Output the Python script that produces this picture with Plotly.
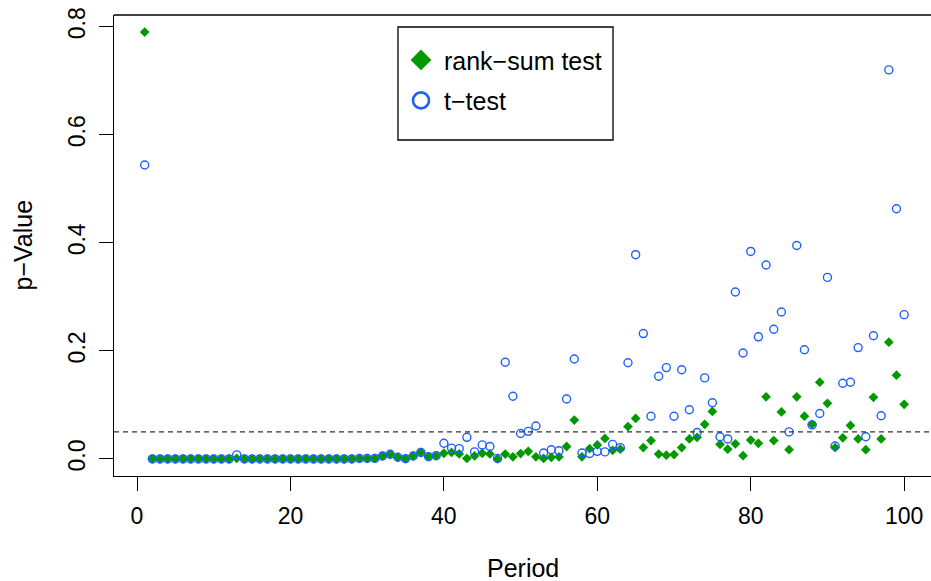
import plotly.graph_objects as go

periods = list(range(1, 101))

t_test = [
    0.544, 0.0, 0.0, 0.0, 0.0, 0.0, 0.0, 0.0, 0.0, 0.0,
    0.0, 0.0, 0.0075, 0.0, 0.0, 0.0, 0.0, 0.0, 0.0, 0.0,
    0.0, 0.0, 0.0, 0.0, 0.0, 0.0, 0.0, 0.0, 0.001, 0.001,
    0.001, 0.0055, 0.0086, 0.003, 0.0006, 0.0055, 0.012, 0.0043, 0.006, 0.029,
    0.020, 0.019, 0.040, 0.013, 0.026, 0.023, 0.001, 0.179, 0.116, 0.047,
    0.051, 0.061, 0.011, 0.017, 0.015, 0.111, 0.185, 0.011, 0.010, 0.014,
    0.013, 0.027, 0.021, 0.178, 0.378, 0.232, 0.079, 0.153, 0.169, 0.079,
    0.165, 0.091, 0.049, 0.150, 0.104, 0.041, 0.037, 0.309, 0.196, 0.384,
    0.226, 0.359, 0.240, 0.272, 0.050, 0.395, 0.202, 0.063, 0.084, 0.336,
    0.024, 0.140, 0.142, 0.206, 0.041, 0.228, 0.080, 0.720, 0.463, 0.267,
]

rank_sum = [
    0.790, 0.0, 0.0, 0.0, 0.0, 0.0, 0.0, 0.0, 0.0, 0.0,
    0.0, 0.0, 0.001, 0.0, 0.0, 0.0, 0.0, 0.0, 0.0, 0.0,
    0.0, 0.0, 0.0, 0.0, 0.0, 0.0, 0.0, 0.0, 0.001, 0.001,
    0.001, 0.0055, 0.0086, 0.003, 0.0006, 0.0055, 0.012, 0.0043, 0.006, 0.0105,
    0.012, 0.0093, 0.001, 0.0055, 0.0105, 0.0093, 0.0, 0.009, 0.004, 0.010,
    0.014, 0.004, 0.001, 0.003, 0.004, 0.023, 0.072, 0.004, 0.019, 0.026,
    0.038, 0.016, 0.018, 0.060, 0.075, 0.021, 0.034, 0.009, 0.007, 0.008,
    0.021, 0.037, 0.040, 0.064, 0.088, 0.027, 0.018, 0.028, 0.006, 0.035,
    0.029, 0.115, 0.034, 0.087, 0.017, 0.115, 0.079, 0.064, 0.142, 0.103,
    0.021, 0.039, 0.062, 0.037, 0.017, 0.114, 0.037, 0.216, 0.155, 0.101,
]

threshold = 0.05
x_ticks = [0, 20, 40, 60, 80, 100]
y_ticks = [0.0, 0.2, 0.4, 0.6, 0.8]
y_tick_text = ["0.0", "0.2", "0.4", "0.6", "0.8"]
series_names = ["rank\u2212sum test", "t\u2212test"]

GREEN = "#009900"
BLUE = "#1f5fff"
FONT = "Liberation Sans, Arial, sans-serif"
FS_TICK = 23
FS_TEXT = 25

fig = go.Figure()

# data traces
fig.add_trace(go.Scatter(
    x=periods, y=rank_sum, mode="markers", showlegend=False,
    marker=dict(symbol="diamond", size=7.5, color=GREEN, line=dict(width=0)),
))
fig.add_trace(go.Scatter(
    x=periods, y=t_test, mode="markers", showlegend=False,
    marker=dict(symbol="circle-open", size=8, color=BLUE, line=dict(width=1.4, color=BLUE)),
))

# legend-only traces (larger symbols, as in the reference legend)
fig.add_trace(go.Scatter(
    x=[None], y=[None], mode="markers", name=series_names[0], legendgroup="a",
    marker=dict(symbol="diamond", size=16, color=GREEN, line=dict(width=0)),
))
fig.add_trace(go.Scatter(
    x=[None], y=[None], mode="markers", name=series_names[1], legendgroup="b",
    marker=dict(symbol="circle-open", size=16, color=BLUE, line=dict(width=2.6, color=BLUE)),
))

# threshold line
fig.add_shape(type="line", xref="paper", x0=0, x1=1, yref="y", y0=threshold, y1=threshold,
              line=dict(color="#333333", width=1.3, dash="5px,4px"), layer="above")
# top border of the box
fig.add_shape(type="line", xref="paper", x0=0, x1=1, yref="paper", y0=1, y1=1,
              line=dict(color="black", width=1.3))
# legend frame
fig.add_shape(type="rect", xref="paper", yref="paper", x0=0.3476, x1=0.6108,
              y0=0.7289, y1=0.974, line=dict(color="black", width=1.3),
              fillcolor="rgba(0,0,0,0)", layer="above")

fig.add_annotation(text="Period", xref="paper", yref="paper", x=0.5, y=-0.1996,
                   xanchor="center", yanchor="middle", showarrow=False,
                   font=dict(family=FONT, size=FS_TEXT, color="black"))
fig.add_annotation(text="p\u2212Value", xref="paper", yref="paper", x=-0.1126, y=0.5,
                   xanchor="center", yanchor="middle", textangle=-90, showarrow=False,
                   font=dict(family=FONT, size=FS_TEXT, color="black"))

fig.update_layout(
    width=931, height=581,
    margin=dict(l=114, r=0, t=15, b=105),
    paper_bgcolor="white", plot_bgcolor="white",
    font=dict(family=FONT, size=FS_TICK, color="black"),
    xaxis=dict(range=[-3.0, 103.5], tickvals=x_ticks, ticks="outside", ticklen=14,
               tickwidth=1.3, tickcolor="black", showline=True, linecolor="black",
               linewidth=1.3, showgrid=False, zeroline=False, ticklabelstandoff=5,
               tickfont=dict(family=FONT, size=FS_TICK, color="black")),
    yaxis=dict(range=[-0.0316, 0.8216], tickvals=y_ticks, ticktext=y_tick_text,
               tickangle=-90, ticks="outside", ticklen=14, tickwidth=1.3,
               tickcolor="black", showline=True, linecolor="black", linewidth=1.3,
               showgrid=False, zeroline=False, ticklabelstandoff=5,
               tickfont=dict(family=FONT, size=FS_TICK, color="black")),
    legend=dict(x=0.3476, y=0.952, xanchor="left", yanchor="top",
                borderwidth=0, bgcolor="rgba(0,0,0,0)",
                font=dict(family=FONT, size=FS_TEXT, color="black"),
                tracegroupgap=5, itemwidth=36),
)

fig.write_html("out.html")
